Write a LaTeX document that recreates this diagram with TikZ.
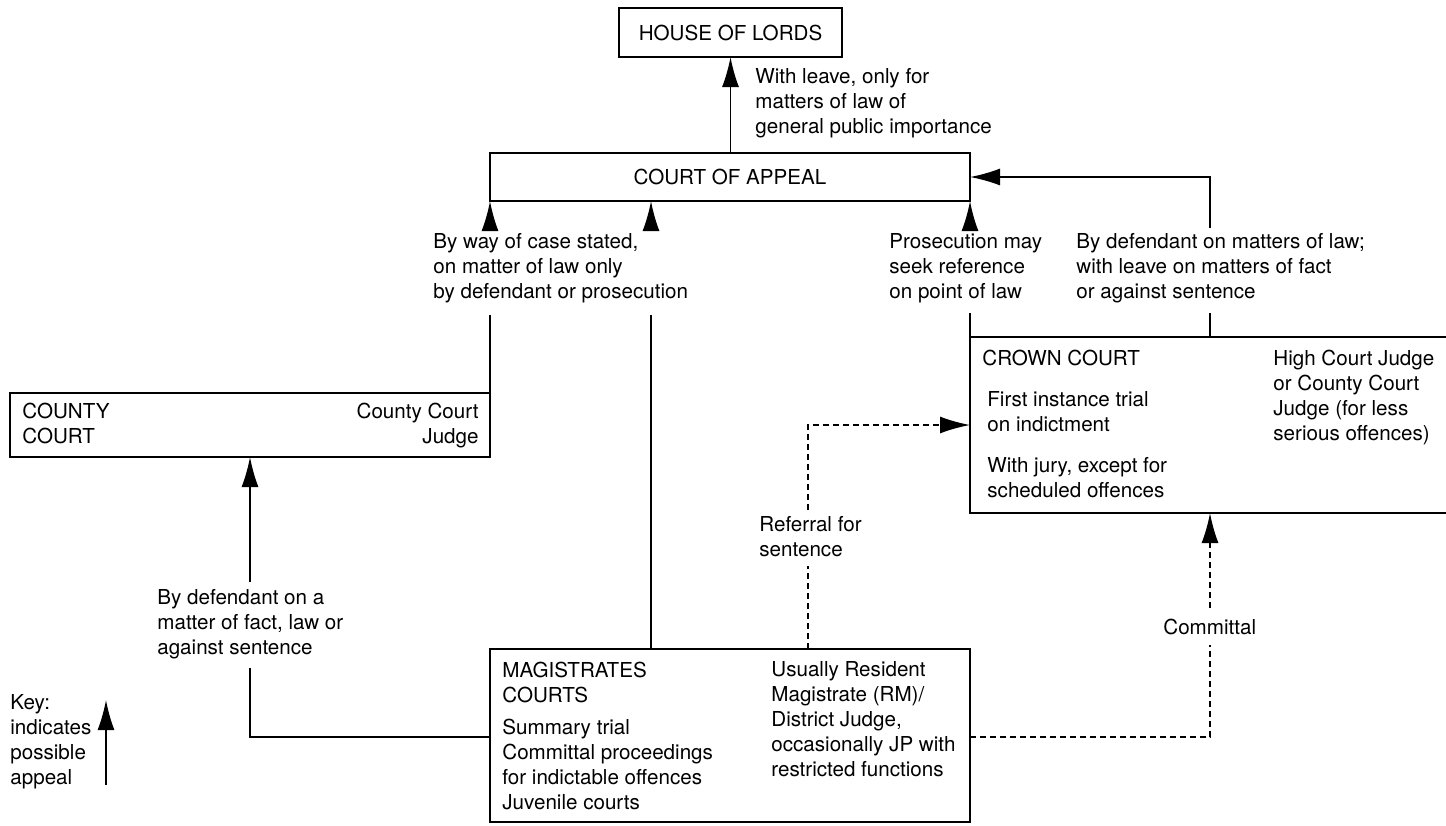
\documentclass[tikz,border=0pt]{standalone}
\usepackage{fontspec}
\setmainfont{TeX Gyre Heros}
\usetikzlibrary{arrows.meta}
\begin{document}
\begin{tikzpicture}[x=0.5pt,y=-0.5pt,
  box/.style={draw, line width=0.8pt, inner sep=0pt, outer sep=0pt, font=\fontsize{10.3}{12.5}\selectfont},
  lbl/.style={align=left, inner sep=0pt, anchor=north west, font=\fontsize{10.3}{12.5}\selectfont},
  conn/.style={line width=0.8pt},
  tip/.style={-{Latex[length=15pt,width=8.5pt]}},
  arr/.style={conn, tip},
  dsh/.style={conn, dash pattern=on 3pt off 2pt}]
\useasboundingbox (0,0) rectangle (1446,825);

% boxes
\node[box, minimum width=111.5pt, minimum height=24.5pt] (hol) at (730.5,32.5) {HOUSE OF LORDS};
\node[box, minimum width=240pt, minimum height=24pt] (coa) at (730,177) {COURT OF APPEAL};
\node[box, minimum width=240pt, minimum height=32pt] (county) at (250,425) {};
\node[box, minimum width=245pt, minimum height=88pt] (crown) at (1215,425) {};
\node[box, minimum width=240pt, minimum height=86.5pt] (mag) at (730,735.5) {};

% box texts
\node[lbl] (countyname) at (22,402.5) {COUNTY\\COURT};
\node[lbl, align=right, anchor=north east] (countyjudge) at (479,402.5) {County Court\\Judge};
\node[lbl] (crownname) at (982,349.5) {CROWN COURT};
\node[lbl] (crownfirst) at (987,391.5) {First instance trial\\on indictment};
\node[lbl] (crownjury) at (987,457) {With jury, except for\\scheduled offences};
\node[lbl] (crownjudge) at (1273,349.5) {High Court Judge\\or County Court\\Judge (for less\\serious offences)};
\node[lbl] (magname) at (502,661.5) {MAGISTRATES\\COURTS};
\node[lbl] (magfun) at (502,718.5) {Summary trial\\Committal proceedings\\for indictable offences\\Juvenile courts};
\node[lbl] (magjudge) at (771,661.5) {Usually Resident\\Magistrate (RM)/\\District Judge,\\occasionally JP with\\restricted functions};

% connector labels
\node[lbl] (lhol) at (755,68.5) {With leave, only for\\matters of law of\\general public importance};
\node[lbl] (lcase) at (433,233.5) {By way of case stated,\\on matter of law only\\by defendant or prosecution};
\node[lbl] (lpros) at (889,233.5) {Prosecution may\\seek reference\\on point of law};
\node[lbl] (ldef) at (1076,233.5) {By defendant on matters of law;\\with leave on matters of fact\\or against sentence};
\node[lbl] (lcounty) at (157,589.5) {By defendant on a\\matter of fact, law or\\against sentence};
\node[lbl] (lref) at (759,516.5) {Referral for\\sentence};
\node[lbl] (lcom) at (1163,618.5) {Committal};
\node[lbl] (key) at (10,694.5) {Key:\\indicates\\possible\\appeal};

% gap coordinates
\coordinate (ga1) at (490,315);  \coordinate (ga2) at (490,228);
\coordinate (gb1) at (651,315);  \coordinate (gb2) at (651,228);
\coordinate (gc1) at (970,313);  \coordinate (gc2) at (970,228);
\coordinate (gd1) at (1210,313); \coordinate (gd2) at (1210,228);
\coordinate (ge1) at (250,668);  \coordinate (ge2) at (250,582);
\coordinate (gf1) at (808,566);  \coordinate (gf2) at (808,510);
\coordinate (gg1) at (1210,645); \coordinate (gg2) at (1210,608);
\coordinate (keyb) at (106,785); \coordinate (keyt) at (106,700);

% House of Lords
\draw[arr] (coa.north -| hol.south) -- (hol.south);

% case stated
\draw[conn] (county.north east) -- (ga1);
\draw[arr] (ga2) -- (coa.south west);
\draw[conn] (mag.north -| gb1) -- (gb1);
\draw[arr] (gb2) -- (coa.south -| gb2);

% prosecution reference
\draw[conn] (crown.north west) -- (gc1);
\draw[arr] (gc2) -- (coa.south east);

% defendant from crown court
\draw[conn] (crown.north -| gd1) -- (gd1);
\draw[arr] (gd2) |- (coa.east);

% magistrates to county court
\draw[conn] (mag.west |- 0,737) -| (ge1);
\draw[arr] (ge2) -- (county.south);

% referral
\draw[dsh] (mag.north -| gf1) -- (gf1);
\draw[dsh, tip] (gf2) |- (crown.west);

% committal
\draw[dsh] (mag.east |- 0,737) -| (gg1);
\draw[dsh, tip] (gg2) -- (crown.south -| gg2);

% key arrow
\draw[arr] (keyb) -- (keyt);
\end{tikzpicture}
\end{document}
